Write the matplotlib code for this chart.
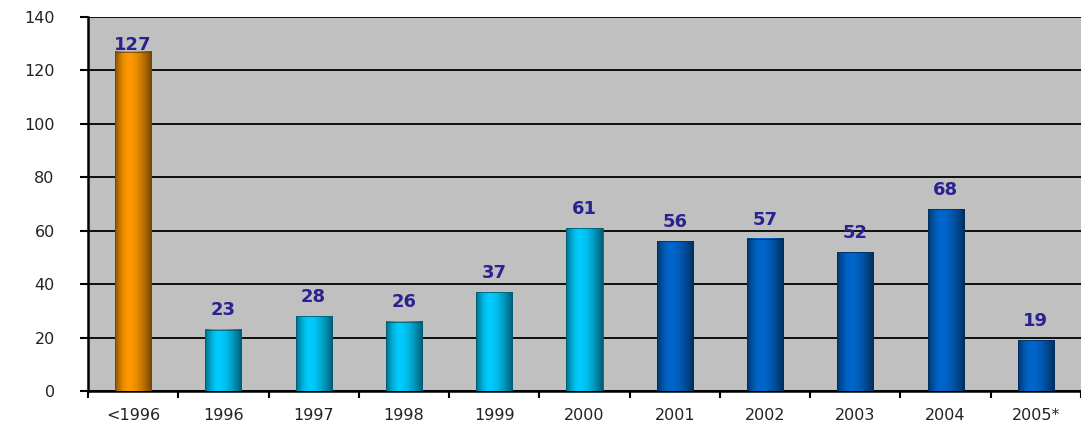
import numpy as np
import matplotlib.pyplot as plt

categories = ["<1996", "1996", "1997", "1998", "1999", "2000",
              "2001", "2002", "2003", "2004", "2005*"]
values = [127, 23, 28, 26, 37, 61, 56, 57, 52, 68, 19]
# colour group of each bar: 0 = orange, 1 = cyan, 2 = blue
groups = [0, 1, 1, 1, 1, 1, 2, 2, 2, 2, 2]
yticks = [0, 20, 40, 60, 80, 100, 120, 140]

# peak colours of the horizontal gradient
peak = {0: (1.00, 0.60, 0.00), 1: (0.00, 0.80, 1.00), 2: (0.00, 0.40, 0.80)}

# brightness profile across a bar (dark edges, bright just left of centre)
t = np.linspace(0, 1, 60)
profile = np.where(t < 0.38, 0.55 + 0.45 * np.sin(t / 0.38 * np.pi / 2),
                   1.0 - 0.55 * ((t - 0.38) / 0.62) ** 1.6)

fig = plt.figure(figsize=(10.81, 4.25), dpi=100)
ax = fig.add_axes([88 / 1081, 34 / 425, 993 / 1081, 374 / 425])
ax.set_facecolor("#c0c0c0")

x = np.arange(len(categories))
w = 0.4
for xi, v, g in zip(x, values, groups):
    col = np.array(peak[g])
    img = (profile[:, None] * col[None, :])[None, :, :]
    ax.imshow(img, extent=(xi - w / 2, xi + w / 2, 0, v), aspect="auto",
              interpolation="bilinear", zorder=3)
    ax.bar(xi, v, width=w, facecolor="none",
           edgecolor=tuple(col * 0.45), linewidth=0.6, zorder=4)
    ly = min(v + 5.3, 127.6)
    ax.text(xi, ly, str(v), ha="center", va="baseline", fontsize=13,
            fontweight="bold", color="#2a2290", family="DejaVu Sans",
            zorder=5)

ax.set_xlim(-0.5, len(categories) - 0.5)
ax.set_ylim(0, 140)
ax.set_yticks(yticks)
ax.set_yticklabels([str(y) for y in yticks], fontsize=11.5,
                   family="DejaVu Sans", color="#222222")
ax.set_xticks(x)
ax.set_xticklabels(categories, fontsize=11.5, family="DejaVu Sans",
                   color="#222222")
ax.set_xticks(np.arange(len(categories) + 1) - 0.5, minor=True)
ax.tick_params(axis="x", which="major", length=0, pad=12)
ax.tick_params(axis="x", which="minor", length=5, width=1.5, direction="out")
ax.tick_params(axis="y", length=6, width=1.5, direction="out", pad=18)

ax.grid(axis="y", color="black", linewidth=1.3, zorder=1)
ax.set_axisbelow(True)
for s in ["top", "right"]:
    ax.spines[s].set_visible(False)
ax.spines["left"].set_linewidth(1.8)
ax.spines["bottom"].set_linewidth(1.8)

plt.savefig("out.png", dpi=100)
